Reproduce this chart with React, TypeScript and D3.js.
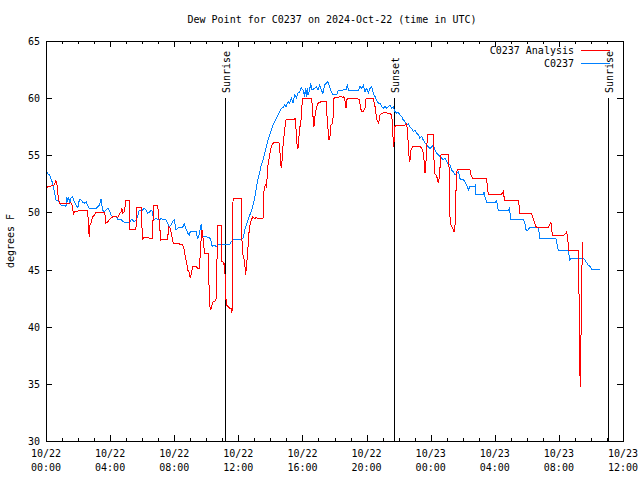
import React from "react";
import * as d3 from "d3";

// ---- Data (hours since 2024-10-22 00:00 UTC, dew point in °F) ----
const analysisTimes = [
  0.0, 0.1, 0.31, 0.52, 0.62, 0.69, 0.73, 0.79, 0.83, 0.94, 1.14, 1.46, 1.56, 1.62, 1.66, 1.71, 1.77, 1.98, 2.08, 2.6,
  2.64, 2.7, 2.74, 2.81, 2.91, 3.02, 3.12, 3.33, 3.64, 3.68, 3.74, 3.85, 3.95, 4.05, 4.16, 4.37, 4.47, 4.68, 4.74, 4.78,
  4.89, 4.99, 5.2, 5.24, 5.61, 5.66, 5.93, 5.99, 6.03, 6.13, 6.24, 6.65, 6.7, 6.97, 7.01, 7.07, 7.11, 7.17, 7.24, 7.38,
  7.59, 7.65, 7.74, 7.8, 7.86, 7.94, 8.11, 8.32, 8.53, 8.63, 8.69, 8.78, 8.84, 8.94, 9.0, 9.11, 9.17, 9.38, 9.48, 9.59,
  9.63, 9.69, 9.73, 9.8, 9.86, 9.9, 10.11, 10.15, 10.21, 10.27, 10.36, 10.42, 10.52, 10.63, 10.67, 10.69, 10.94, 10.98,
  11.04, 11.11, 11.15, 11.19, 11.25, 11.36, 11.46, 11.56, 11.6, 11.63, 11.67, 11.71, 12.19, 12.23, 12.29, 12.4, 12.44,
  12.5, 12.6, 12.67, 12.73, 12.81, 12.91, 13.02, 13.12, 13.23, 13.54, 13.6, 13.68, 13.75, 13.81, 13.85, 13.95, 14.06,
  14.16, 14.27, 14.47, 14.58, 14.62, 14.68, 14.74, 14.79, 14.89, 14.95, 14.99, 15.51, 15.56, 15.62, 15.68, 15.72, 15.76,
  15.83, 15.93, 15.99, 16.03, 16.55, 16.6, 16.66, 16.72, 16.76, 16.87, 16.97, 17.18, 17.49, 17.53, 17.59, 17.66, 17.72,
  17.78, 17.89, 17.93, 17.97, 18.03, 18.45, 18.55, 18.59, 18.66, 18.72, 18.76, 18.86, 19.07, 19.28, 19.38, 19.55, 19.63,
  19.7, 19.8, 19.9, 19.97, 20.01, 20.42, 20.46, 20.53, 20.63, 20.69, 20.76, 20.8, 20.84, 20.94, 21.15, 21.36, 21.46,
  21.57, 21.61, 21.65, 21.69, 21.73, 21.77, 21.88, 22.09, 22.4, 22.5, 22.57, 22.63, 22.67, 22.71, 22.77, 22.88, 23.02,
  23.33, 23.44, 23.54, 23.6, 23.65, 23.69, 23.75, 23.79, 24.17, 24.21, 24.25, 24.33, 24.42, 24.48, 24.54, 24.58, 24.64,
  24.79, 25.1, 25.14, 25.16, 25.21, 25.27, 25.37, 25.46, 25.52, 25.56, 25.62, 25.68, 26.45, 26.51, 26.62, 27.49, 27.53,
  27.59, 28.43, 28.53, 28.57, 28.63, 29.47, 29.53, 29.57, 30.3, 30.4, 30.5, 30.57, 30.61, 31.34, 31.44, 31.5, 31.54,
  31.61, 32.27, 32.38, 32.48, 32.54, 32.58, 32.63, 33.21, 33.25, 33.29, 33.33, 33.37, 33.42, 33.48,
];
const analysisDew = [
  52.11, 52.25, 52.3, 52.4, 52.78, 52.4, 51.67, 51.24, 50.8, 50.75, 50.8, 50.8, 50.85, 50.65, 50.36, 49.86, 50.07, 50.1, 50.21, 50.21,
  49.05, 47.82, 48.9, 49.05, 49.63, 49.77, 49.98, 50.0, 50.0, 49.77, 49.05, 49.19, 49.34, 49.48, 49.63, 49.63, 49.57, 50.07, 50.36, 49.92,
  50.07, 51.09, 51.03, 48.52, 48.52, 50.45, 50.42, 48.61, 47.65, 47.82, 47.79, 47.73, 50.65, 50.65, 49.92, 49.19, 48.46, 47.59, 47.68, 47.65,
  47.65, 48.75, 48.61, 48.32, 47.88, 47.3, 47.24, 47.24, 47.15, 46.71, 46.13, 45.55, 44.97, 44.73, 44.24, 44.97, 45.26, 45.26, 45.11, 45.11,
  46.86, 47.74, 48.46, 47.74, 46.86, 46.42, 46.42, 44.53, 41.9, 41.47, 41.9, 42.19, 42.19, 42.48, 45.99, 48.9, 48.9, 45.69,
  45.69, 45.4, 45.55, 43.51, 41.9, 41.76, 41.61, 41.61, 41.17, 42.19, 51.24, 51.18, 51.18, 47.44, 46.28, 45.69, 44.53,
  45.11, 46.86, 48.32, 48.9, 49.34, 49.63, 49.48, 49.54, 49.48, 49.48, 51.82, 52.4, 52.26, 53.28, 54.15, 55.03, 55.75,
  56.05, 56.13, 56.13, 56.05, 54.45, 53.86, 54.74, 55.9, 57.21, 57.94, 58.17, 58.17, 58.23, 56.78, 55.61, 55.55, 56.34,
  57.36, 58.23, 59.84, 59.99, 59.99, 59.55, 58.38, 57.5, 58.23, 59.11, 59.55, 59.7, 59.7, 58.53, 57.36, 56.34, 56.7,
  57.65, 57.79, 58.82, 59.99, 60.05, 60.13, 60.05, 60.13, 59.7, 59.11, 59.84, 59.99, 59.93, 59.93, 59.99, 59.84, 59.11,
  58.82, 58.82, 59.11, 59.99, 59.99, 59.93, 59.7, 59.26, 58.23, 57.94, 57.79, 58.23, 58.53, 58.67, 58.73, 58.67, 58.67,
  58.53, 57.65, 56.63, 55.75, 56.49, 57.5, 57.65, 57.65, 57.65, 57.79, 56.78, 55.32, 54.45, 54.59, 55.46, 55.75, 55.81,
  55.75, 55.66, 55.17, 54.45, 53.42, 54.15, 55.17, 56.84, 56.84, 54.45, 53.42, 53.28, 52.98, 52.55, 53.13, 53.86, 55.03,
  55.09, 55.09, 54.45, 52.4, 49.48, 48.9, 48.61, 48.32, 48.9, 50.94, 53.57, 53.77, 53.77, 53.28, 52.98, 52.98, 52.4,
  51.61, 51.61, 51.82, 51.44, 51.01, 51.01, 50.51, 49.87, 49.87, 49.49, 49.05, 48.76, 48.7, 48.7, 48.99, 49.17, 48.61,
  47.94, 47.94, 48.11, 48.29, 47.88, 47.3, 46.66, 46.66, 43.65, 37.73, 34.76, 37.96, 44.24, 47.45,
];

const obsTimes = [
  0.0, 0.1, 0.21, 0.42, 0.52, 0.62, 0.83, 0.94, 1.25, 1.29, 1.35, 1.42, 1.5, 1.56, 1.66, 1.77, 1.87, 1.98, 2.08, 2.18,
  2.29, 2.39, 2.5, 2.6, 2.7, 2.81, 2.91, 3.12, 3.22, 3.33, 3.43, 3.53, 3.64, 3.74, 3.85, 3.95, 4.05, 4.16, 4.37, 4.47,
  4.68, 4.79, 5.0, 5.2, 5.3, 5.4, 5.51, 5.61, 5.72, 5.82, 6.03, 6.13, 6.24, 6.34, 6.45, 6.55, 6.65, 6.7, 6.86, 7.07,
  7.18, 7.28, 7.49, 7.59, 7.7, 7.8, 7.9, 8.01, 8.11, 8.22, 8.32, 8.53, 8.63, 8.73, 8.84, 8.94, 9.0, 9.38, 9.44, 9.53,
  9.59, 9.65, 9.69, 9.73, 9.8, 10.0, 10.21, 10.32, 10.36, 10.42, 10.52, 10.63, 10.73, 10.94, 11.46, 11.56, 11.67, 12.19,
  12.29, 12.35, 12.4, 12.5, 12.6, 12.71, 12.81, 12.91, 13.02, 13.12, 13.23, 13.33, 13.43, 13.54, 13.64, 13.75, 13.85,
  13.95, 14.06, 14.16, 14.27, 14.37, 14.47, 14.58, 14.68, 14.79, 14.89, 14.99, 15.1, 15.2, 15.31, 15.41, 15.51, 15.62,
  15.72, 15.83, 15.93, 16.03, 16.14, 16.18, 16.24, 16.3, 16.35, 16.45, 16.51, 16.6, 16.76, 16.87, 16.97, 17.07, 17.18,
  17.28, 17.39, 17.49, 17.59, 17.7, 17.8, 17.93, 18.14, 18.24, 18.55, 18.76, 18.8, 18.86, 19.18, 19.49, 19.59, 19.7,
  19.8, 19.9, 20.01, 20.11, 20.22, 20.32, 20.42, 20.53, 20.63, 20.74, 20.84, 20.94, 21.05, 21.15, 21.26, 21.36, 21.46,
  21.57, 21.67, 21.77, 21.88, 21.98, 22.09, 22.19, 22.29, 22.4, 22.5, 22.61, 22.71, 22.81, 22.92, 23.02, 23.13, 23.23,
  23.33, 23.44, 23.54, 23.65, 23.75, 23.85, 23.96, 24.06, 24.17, 24.27, 24.37, 24.48, 24.58, 24.69, 24.79, 24.89, 25.0,
  25.1, 25.21, 25.31, 25.41, 25.52, 25.62, 25.73, 25.83, 25.93, 26.04, 26.14, 26.25, 26.35, 26.45, 26.76, 26.8, 26.82,
  27.28, 27.34, 27.39, 27.49, 28.01, 28.11, 28.18, 28.22, 28.84, 28.9, 28.95, 29.01, 29.78, 29.88, 29.94, 30.03, 30.09,
  30.19, 30.71, 30.75, 30.82, 31.81, 31.86, 31.92, 31.96, 32.58, 32.65, 32.69, 32.73, 32.79, 33.52, 33.62, 33.73, 33.83,
  33.94, 34.04, 34.56,
];
const obsDew = [
  53.7, 53.4, 53.3, 52.55, 51.8, 51.09, 50.94, 50.65, 50.55, 51.38, 50.95, 51.3, 50.8, 51.25, 51.4, 50.9, 50.65, 50.4, 51.09, 51.1,
  50.9, 50.8, 50.94, 50.65, 50.36, 50.3, 50.36, 50.3, 50.5, 50.65, 51.15, 50.21, 50.07, 50.21, 50.36, 50.21, 49.77, 49.63, 49.63, 49.4,
  49.4, 49.2, 49.11, 49.11, 49.34, 49.34, 49.2, 49.34, 49.63, 50.21, 50.21, 50.36, 50.21, 49.92, 50.0, 50.21, 50.07, 49.34, 49.48, 49.34,
  49.48, 49.34, 49.34, 49.05, 48.76, 48.9, 49.19, 49.34, 48.46, 48.6, 48.7, 48.7, 49.0, 48.6, 48.2, 48.03, 48.32, 48.37, 47.74, 47.88,
  48.32, 48.76, 48.96, 48.46, 47.88, 47.88, 47.79, 47.44, 47.0, 47.15, 47.15, 47.0, 47.15, 47.21, 47.21, 47.44, 47.59, 47.59,
  47.74, 48.03, 48.46, 48.9, 49.34, 49.77, 50.07, 50.65, 51.24, 52.11, 52.98, 53.42, 54.15, 54.59, 55.17, 55.75, 56.34,
  56.78, 57.21, 57.65, 57.94, 58.23, 58.53, 58.82, 59.11, 59.17, 59.4, 59.26, 59.7, 59.55, 59.99, 59.55, 60.28, 60.05,
  60.42, 60.57, 60.92, 60.71, 60.13, 60.86, 60.13, 60.86, 60.28, 60.71, 61.3, 60.71, 60.86, 61.01, 60.71, 61.15, 60.71,
  60.42, 61.15, 61.3, 61.44, 61.01, 60.57, 60.28, 60.28, 60.71, 60.71, 60.8, 61.21, 60.71, 60.71, 60.71, 61.01, 60.86,
  61.15, 60.57, 60.86, 60.42, 60.86, 61.01, 60.42, 60.13, 59.84, 59.55, 59.55, 59.26, 59.11, 59.26, 59.11, 59.26, 59.4,
  59.11, 59.26, 58.82, 58.67, 58.76, 58.53, 58.38, 58.09, 57.94, 57.65, 57.79, 57.5, 57.36, 57.07, 57.21, 56.92, 56.78,
  56.49, 56.63, 56.34, 56.05, 55.9, 55.75, 55.61, 55.75, 55.9, 55.46, 55.17, 55.03, 54.88, 54.74, 54.59, 54.74, 54.45,
  54.21, 54.15, 53.71, 53.57, 53.28, 53.42, 53.57, 52.98, 52.84, 52.84, 52.69, 52.4, 51.96, 52.26, 52.26, 52.49, 51.53,
  51.53, 51.82, 51.38, 50.86, 50.86, 51.03, 50.51, 50.16, 50.16, 50.36, 49.92, 49.4, 49.4, 49.05, 48.52, 48.4, 48.52,
  48.7, 48.7, 48.4, 47.73, 47.73, 47.45, 46.95, 46.66, 46.66, 46.13, 45.78, 45.99, 45.99, 45.99, 45.84, 45.61, 45.4,
  45.26, 45.05, 45.05,
];

const sunLabels = ["Sunrise", "Sunset", "Sunrise"];
const sunHours = [11.17, 21.71, 35.06];
const seriesNames = ["C0237 Analysis", "C0237"];
const seriesColors = ["#ff0000", "#0080ff"];
const yTicks = [30, 35, 40, 45, 50, 55, 60, 65];
const xMajorHours = [0, 4, 8, 12, 16, 20, 24, 28, 32, 36];
const titleText = "Dew Point for C0237 on 2024-Oct-22 (time in UTC)";
const yLabel = "degrees F";

const BASE = Date.UTC(2024, 9, 22, 0, 0, 0);
const toDate = (h: number) => new Date(BASE + h * 3600 * 1000);

export default function App() {
  const W = 640, H = 480;
  const L = 46, R = 623, T = 41, B = 441;
  const x = d3.scaleUtc().domain([toDate(0), toDate(36)]).range([L, R]);
  const y = d3.scaleLinear().domain([30, 65]).range([B, T]);
  const fmtDay = d3.utcFormat("%m/%d");
  const fmtTime = d3.utcFormat("%H:%M");
  const font = "'DejaVu Sans Mono', monospace";

  const line = d3
    .line<[number, number]>()
    .x((d) => x(toDate(d[0])))
    .y((d) => y(d[1]));
  const analysisPts: [number, number][] = analysisTimes.map((t, i) => [t, analysisDew[i]]);
  const obsPts: [number, number][] = obsTimes.map((t, i) => [t, obsDew[i]]);

  const minorHours = d3.range(0, 37, 1);

  return (
    <svg
      width={W}
      height={H}
      style={{ position: "absolute", left: 0, top: 0, background: "#fff" }}
      fontFamily={font}
      fontSize={10}
    >
      <rect x={0} y={0} width={W} height={H} fill="#fff" />
      <text x={332} y={23} textAnchor="middle" fill="#000">
        {titleText}
      </text>
      {/* y ticks */}
      {yTicks.map((v) => (
        <g key={"y" + v}>
          <line x1={L} x2={L + 6} y1={Math.round(y(v)) + 0.5} y2={Math.round(y(v)) + 0.5} stroke="#000" shapeRendering="crispEdges" />
          <line x1={R - 6} x2={R} y1={Math.round(y(v)) + 0.5} y2={Math.round(y(v)) + 0.5} stroke="#000" shapeRendering="crispEdges" />
          <text x={40} y={y(v) + 4} textAnchor="end" fill="#000">
            {v}
          </text>
        </g>
      ))}
      {/* x ticks */}
      {minorHours.map((h) => {
        const major = h % 4 === 0;
        const len = major ? 6 : 3;
        const xx = Math.round(x(toDate(h))) + 0.5;
        return (
          <g key={"x" + h}>
            <line x1={xx} x2={xx} y1={B} y2={B - len} stroke="#000" shapeRendering="crispEdges" />
            <line x1={xx} x2={xx} y1={T} y2={T + len} stroke="#000" shapeRendering="crispEdges" />
          </g>
        );
      })}
      {xMajorHours.map((h) => (
        <g key={"xl" + h} fill="#000">
          <text x={x(toDate(h))} y={457} textAnchor="middle">
            {fmtDay(toDate(h))}
          </text>
          <text x={x(toDate(h))} y={471} textAnchor="middle">
            {fmtTime(toDate(h))}
          </text>
        </g>
      ))}
      {/* y label */}
      <text transform={`translate(14,${(T + B) / 2}) rotate(-90)`} textAnchor="middle" fill="#000">
        {yLabel}
      </text>
      {/* sun lines */}
      {sunHours.map((h, i) => {
        const xx = Math.round(x(toDate(h))) + 0.5;
        return (
          <g key={"s" + i}>
            <line x1={xx} x2={xx} y1={y(60)} y2={B} stroke="#000" shapeRendering="crispEdges" />
            <text transform={`translate(${xx + 4},93) rotate(-90)`} textAnchor="start" fill="#000">
              {sunLabels[i]}
            </text>
          </g>
        );
      })}
      {/* series */}
      <path d={line(obsPts) || ""} fill="none" stroke={seriesColors[1]} strokeWidth={1} shapeRendering="crispEdges" />
      <path d={line(analysisPts) || ""} fill="none" stroke={seriesColors[0]} strokeWidth={1} shapeRendering="crispEdges" />
      {/* legend */}
      {seriesNames.map((n, i) => (
        <g key={"lg" + i}>
          <text x={574} y={54 + i * 13} textAnchor="end" fill="#000">
            {n}
          </text>
          <line x1={581} x2={610} y1={50.5 + i * 13} y2={50.5 + i * 13} stroke={seriesColors[i]} shapeRendering="crispEdges" />
        </g>
      ))}
      {/* frame */}
      <rect x={L + 0.5} y={T + 0.5} width={R - L} height={B - T} fill="none" stroke="#000" shapeRendering="crispEdges" />
    </svg>
  );
}
